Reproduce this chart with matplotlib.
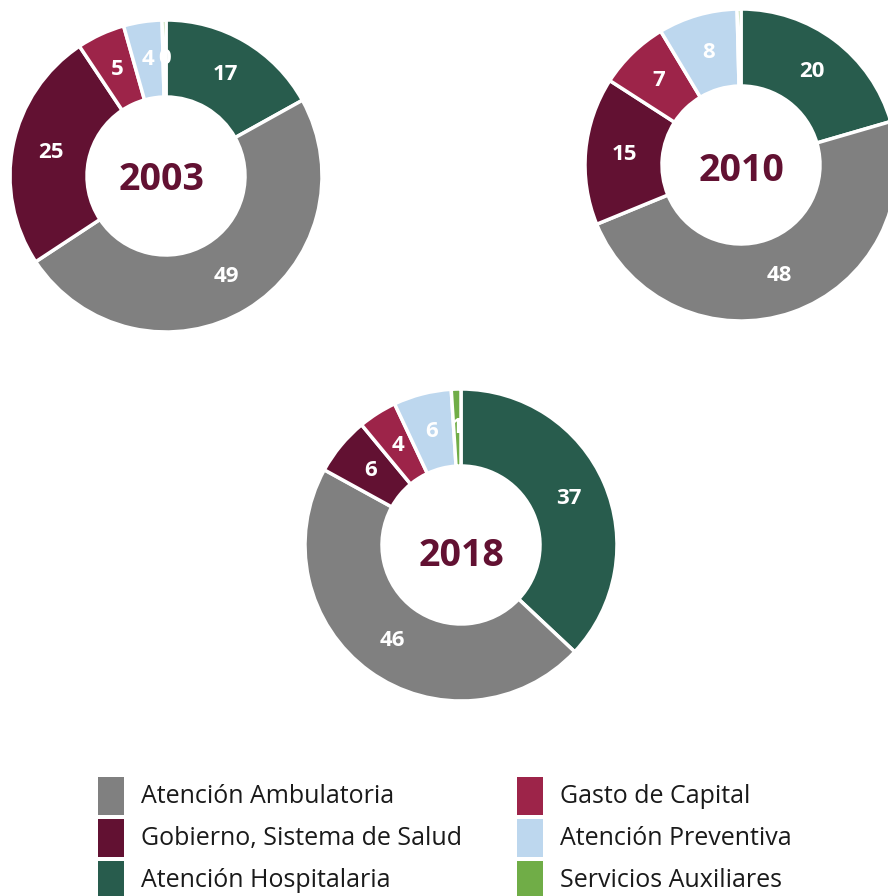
import numpy as np
import matplotlib

matplotlib.use("Agg")

import matplotlib.pyplot as plt
from matplotlib.patches import Rectangle

# ==================================================
# DATA
# ==================================================

categories = [
    "Atención Hospitalaria",
    "Atención Ambulatoria",
    "Gobierno, Sistema de Salud",
    "Gasto de Capital",
    "Atención Preventiva",
    "Servicios Auxiliares",
]

colors = ["#285C4D", "#808080", "#621132", "#9D2449", "#BDD7EE", "#70AD47"]

years = ["2003", "2010", "2018"]

values_2003 = [17, 49, 25, 5, 4, 0.4]
values_2010 = [20.5, 48.3, 15.3, 7.3, 8.2, 0.4]
values_2018 = [37, 46, 6, 4, 6, 1]

labels_2003 = ["17", "49", "25", "5", "4", "0"]
labels_2010 = ["20", "48", "15", "7", "8", ""]
labels_2018 = ["37", "46", "6", "4", "6", "1"]

legend_order = [
    "Atención Ambulatoria",
    "Gobierno, Sistema de Salud",
    "Atención Hospitalaria",
    "Gasto de Capital",
    "Atención Preventiva",
    "Servicios Auxiliares",
]

# ==================================================
# FIGURE (axes in pixel units, y up)
# ==================================================

W, H = 888, 896
fig = plt.figure(figsize=(W / 100, H / 100), dpi=100)
ax = fig.add_axes([0, 0, 1, 1])

FONT = "Open Sans"
R_OUT = 156
R_IN = 79

# (values, labels, year, donut centre px, year-label centre px)
donuts = [
    (values_2003, labels_2003, years[0], (166, 176), (162, 176)),
    (values_2010, labels_2010, years[1], (741, 165), (742, 167)),
    (values_2018, labels_2018, years[2], (461, 545), (461, 552)),
]

for vals, labs, year, (px, py), (lx, ly) in donuts:
    center = (px, H - py)
    wedges, _ = ax.pie(
        vals,
        colors=colors,
        startangle=90,
        counterclock=False,
        radius=R_OUT,
        center=center,
        frame=True,
        wedgeprops=dict(width=R_OUT - R_IN, edgecolor="white", linewidth=2.5),
    )
    r_mid = (R_OUT + R_IN) / 2
    for w, lab in zip(wedges, labs):
        if not lab:
            continue
        ang = np.deg2rad((w.theta1 + w.theta2) / 2)
        ax.text(
            center[0] + r_mid * np.cos(ang),
            center[1] + r_mid * np.sin(ang),
            lab,
            ha="center",
            va="center",
            color="white",
            fontsize=16,
            weight="bold",
            family=FONT,
        )
    ax.text(
        lx,
        H - ly - 4,
        year,
        ha="center",
        va="center",
        color="#621132",
        fontsize=27,
        weight="bold",
        family=FONT,
    )

# ==================================================
# LEGEND
# ==================================================

cmap = dict(zip(categories, colors))
col_x = [98, 517]
row_y = [796, 838, 880]

for i, name in enumerate(legend_order):
    cx = col_x[i // 3]
    cy = H - row_y[i % 3]
    ax.add_patch(Rectangle((cx, cy - 19), 26, 38, color=cmap[name], lw=0))
    ax.text(
        cx + 43,
        cy,
        name,
        ha="left",
        va="center",
        fontsize=18,
        color="#1a1a1a",
        family=FONT,
    )

ax.set_xlim(0, W)
ax.set_ylim(0, H)
ax.set_aspect("auto")
ax.axis("off")

plt.savefig("out.png", dpi=100)
plt.close()
